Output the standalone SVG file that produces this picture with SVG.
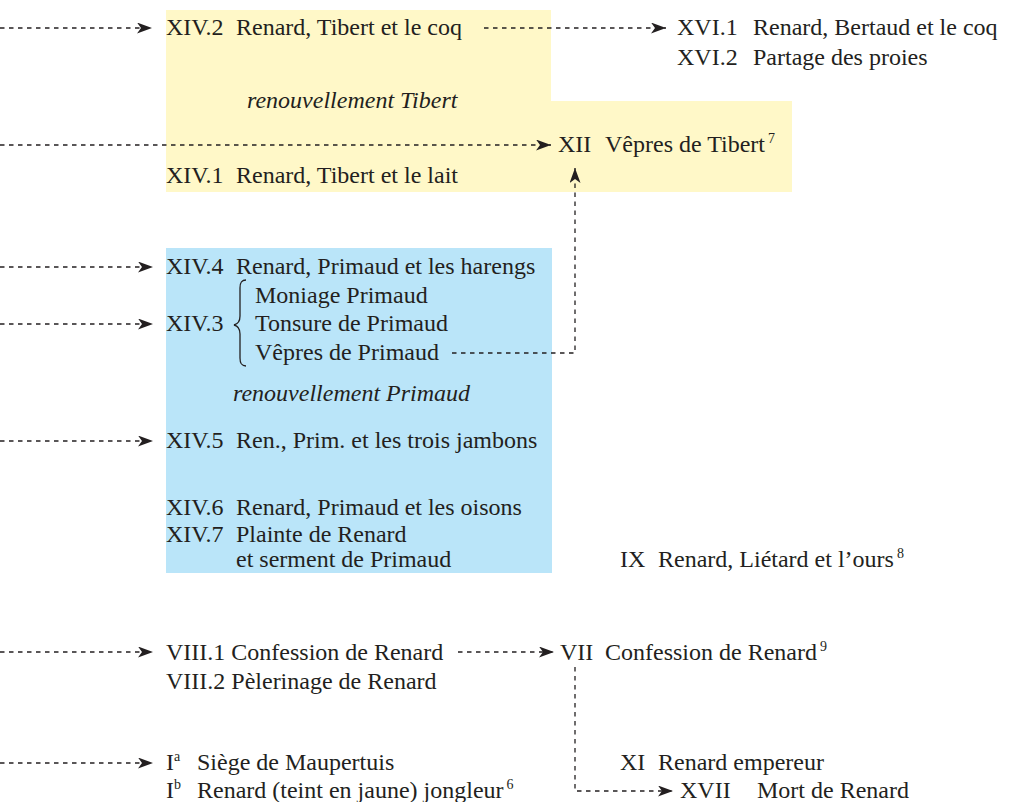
<svg xmlns="http://www.w3.org/2000/svg" width="1011" height="802" viewBox="0 0 1011 802">
<style>
text{font-family:"Liberation Serif","Times New Roman",serif;font-size:24px;fill:#231f20}
.it{font-style:italic}
.sup{font-size:14px}
.c{fill:none;stroke:#231f20;stroke-width:1.3;stroke-dasharray:4.5 4.5}
.br{fill:none;stroke:#231f20;stroke-width:1.3}
</style>
<defs>
<marker id="ah" markerUnits="userSpaceOnUse" markerWidth="16" markerHeight="11" refX="15" refY="5.5" orient="auto">
<path d="M0,0 L15,5.5 L0,11 L4,5.5 z" fill="#231f20"/>
</marker>
</defs>
<g id="zones">
<path id="zone-tibert" d="M166,10 H551 V101 H792 V192 H166 Z" fill="#fff8c8"/>
<rect id="zone-primaud" x="166" y="248" width="386" height="325" fill="#bae5f9"/>
</g>
<g id="connectors">
<path class="c" d="M0,28 H152" marker-end="url(#ah)"/>
<path class="c" d="M484,28 H666" marker-end="url(#ah)"/>
<path class="c" d="M0,145 H551" marker-end="url(#ah)"/>
<path class="c" d="M0,267 H153" marker-end="url(#ah)"/>
<path class="c" d="M0,324 H153" marker-end="url(#ah)"/>
<path class="c" d="M452,353 H575 V168" marker-end="url(#ah)"/>
<path class="c" d="M0,441 H153" marker-end="url(#ah)"/>
<path class="c" d="M0,652 H153" marker-end="url(#ah)"/>
<path class="c" d="M458,652 H554" marker-end="url(#ah)"/>
<path class="c" d="M575,667 V791 H673" marker-end="url(#ah)"/>
<path class="c" d="M0,763 H153" marker-end="url(#ah)"/>
</g>
<g id="n-xiv2"><text x="166" y="35">XIV.2</text><text x="236" y="35">Renard, Tibert et le coq</text></g>
<g id="n-xvi"><text x="677" y="35">XVI.1</text><text x="753" y="35">Renard, Bertaud et le coq</text><text x="677" y="65">XVI.2</text><text x="753" y="65">Partage des proies</text></g>
<g id="n-renouv-tibert"><text class="it" x="247" y="108">renouvellement Tibert</text></g>
<g id="n-xii"><text x="558" y="152">XII</text><text x="605" y="152">Vêpres de Tibert<tspan class="sup" dx="3" dy="-9">7</tspan></text></g>
<g id="n-xiv1"><text x="166" y="183">XIV.1</text><text x="236" y="183">Renard, Tibert et le lait</text></g>
<g id="n-xiv4"><text x="166" y="274">XIV.4</text><text x="236" y="274">Renard, Primaud et les harengs</text></g>
<g id="n-xiv3"><text x="166" y="331">XIV.3</text>
<path class="br" d="M246,280 C241,280 240,283 240,288 L240,316 C240,321 238,324 234,325 C238,326 240,329 240,334 L240,358 C240,363 241,366 246,366"/>
<text x="255" y="303">Moniage Primaud</text><text x="255" y="331">Tonsure de Primaud</text><text x="255" y="360">Vêpres de Primaud</text></g>
<g id="n-renouv-primaud"><text class="it" x="233" y="401">renouvellement Primaud</text></g>
<g id="n-xiv5"><text x="166" y="448">XIV.5</text><text x="236" y="448">Ren., Prim. et les trois jambons</text></g>
<g id="n-xiv6"><text x="166" y="515">XIV.6</text><text x="236" y="515">Renard, Primaud et les oisons</text></g>
<g id="n-xiv7"><text x="166" y="542">XIV.7</text><text x="236" y="542">Plainte de Renard</text><text x="236" y="567">et serment de Primaud</text></g>
<g id="n-ix"><text x="620" y="567">IX</text><text x="658" y="567">Renard, Liétard et l’ours<tspan class="sup" dx="3" dy="-9">8</tspan></text></g>
<g id="n-viii"><text x="166" y="660">VIII.1 Confession de Renard</text><text x="166" y="689">VIII.2 Pèlerinage de Renard</text></g>
<g id="n-vii"><text x="560" y="660">VII</text><text x="605" y="660">Confession de Renard<tspan class="sup" dx="3" dy="-9">9</tspan></text></g>
<g id="n-i"><text x="166" y="770">I<tspan class="sup" dy="-9">a</tspan></text><text x="197" y="770">Siège de Maupertuis</text>
<text x="166" y="798">I<tspan class="sup" dy="-9">b</tspan></text><text x="197" y="798">Renard (teint en jaune) jongleur<tspan class="sup" dx="3" dy="-9">6</tspan></text></g>
<g id="n-xi"><text x="620" y="770">XI</text><text x="658" y="770">Renard empereur</text></g>
<g id="n-xvii"><text x="680" y="798">XVII</text><text x="757" y="798">Mort de Renard</text></g>
</svg>
